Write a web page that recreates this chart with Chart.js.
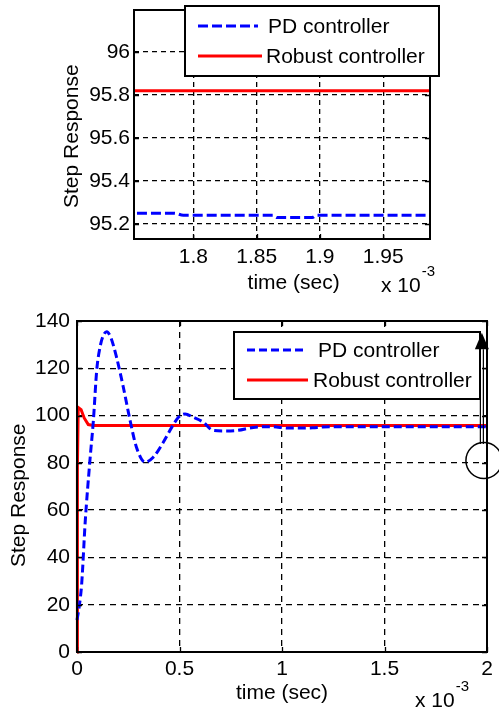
<!DOCTYPE html>
<html>
<head>
<meta charset="utf-8">
<title>Step Response</title>
<script src="https://cdn.jsdelivr.net/npm/chart.js@4/dist/chart.umd.min.js"></script>
<style>
  html, body { margin: 0; padding: 0; background: #fff; }
  #wrap { position: relative; width: 499px; height: 711px; overflow: hidden; }
  .panel { position: absolute; left: 0; }
</style>
</head>
<body>
<div id="wrap">
  <div class="panel" style="top:0"><canvas id="zoomChart" width="499" height="300"></canvas></div>
  <div class="panel" style="top:300px"><canvas id="fullChart" width="499" height="411"></canvas></div>
</div>
<script>
// time axis is in units of 1e-3 sec
var seriesNames = ['PD controller', 'Robust controller'];

var pdTime = [0, 0.012, 0.023, 0.04, 0.063, 0.08, 0.096, 0.112, 0.128, 0.145, 0.165, 0.193, 0.226, 0.259,
    0.29, 0.332, 0.372, 0.421, 0.462, 0.495, 0.527, 0.567, 0.616, 0.665, 0.72, 0.78, 0.86, 0.95, 1.03,
    1.08, 1.15, 1.2, 1.4, 1.6, 1.7, 1.785, 1.792, 1.863, 1.866, 1.894, 1.897, 2.0];
var pdResp = [13.5, 20, 29, 55, 81, 98, 119, 128.8, 133.8, 135.5, 133, 124.6, 112, 97.9,
    86.6, 80.3, 82.4, 88.7, 95, 99.3, 100.7, 99.3, 97.2, 93.7, 93.5, 93.7, 95, 95.3, 94.7,
    94.7, 94.8, 95.2, 95.25, 95.25, 95.25, 95.25, 95.24, 95.24, 95.23, 95.23, 95.24, 95.24];

var robustTime = [0, 0.002, 0.006, 0.02, 0.035, 0.055, 0.08, 2.0];
var robustResp = [0, 78, 103.4, 102.5, 99, 96.2, 95.82, 95.82];

var zoomTimeTicks = [1.8, 1.85, 1.9, 1.95];
var zoomRespTicks = [95.2, 95.4, 95.6, 95.8, 96];
var fullTimeTicks = [0, 0.5, 1, 1.5, 2];
var fullRespTicks = [0, 20, 40, 60, 80, 100, 120, 140];

var FONT = "'Liberation Sans', Arial, sans-serif";
Chart.defaults.font.family = FONT;
Chart.defaults.font.size = 21;
Chart.defaults.color = '#000';
Chart.defaults.animation = false;

function points(ts, vs) {
    return ts.map(function (t, i) { return {x: t, y: vs[i]}; });
}

function makeDatasets(dash, clip) {
    return [{
        label: seriesNames[0],
        data: points(pdTime, pdResp),
        borderColor: '#0000ff',
        borderWidth: 3,
        borderDash: dash,
        pointRadius: 0,
        cubicInterpolationMode: 'monotone',
        clip: clip
    }, {
        label: seriesNames[1],
        data: points(robustTime, robustResp),
        borderColor: '#ff0000',
        borderWidth: 3,
        pointRadius: 0,
        tension: 0,
        clip: clip
    }];
}

function fixedTicks(list) {
    return function (scale) {
        scale.ticks = list.map(function (v) { return {value: v}; });
    };
}

function axis(min, max, tickList, size, pad, title, titlePad, gridDash) {
    var horizontal = size.height !== undefined;
    return {
        type: 'linear',
        min: min,
        max: max,
        afterBuildTicks: fixedTicks(tickList),
        afterFit: function (s) {
            if (horizontal) {
                s.height = size.height;
                s.paddingLeft = 0; s.paddingRight = 0;
            } else {
                s.width = size.width;
                s.paddingTop = 0; s.paddingBottom = 0;
            }
        },
        grid: {color: '#000', lineWidth: 1.3, drawTicks: false},
        border: {display: false, dash: gridDash},
        ticks: {
            padding: pad,
            autoSkip: false,
            maxRotation: 0,
            callback: function (v) { return String(v); }
        },
        title: {display: true, text: title, padding: titlePad}
    };
}

// axes box with inward tick marks
function framePlugin() {
    return {
        id: 'frame',
        afterDatasetsDraw: function (chart) {
            var a = chart.chartArea, ctx = chart.ctx;
            var xs = chart.scales.x, ys = chart.scales.y;
            ctx.save();
            ctx.strokeStyle = '#000';
            ctx.lineWidth = 1.3;
            ctx.beginPath();
            xs.ticks.forEach(function (t) {
                var px = Math.round(xs.getPixelForValue(t.value)) + 0.5;
                ctx.moveTo(px, a.bottom); ctx.lineTo(px, a.bottom - 5);
                ctx.moveTo(px, a.top); ctx.lineTo(px, a.top + 5);
            });
            ys.ticks.forEach(function (t) {
                var py = Math.round(ys.getPixelForValue(t.value)) + 0.5;
                ctx.moveTo(a.left, py); ctx.lineTo(a.left + 5, py);
                ctx.moveTo(a.right, py); ctx.lineTo(a.right - 5, py);
            });
            ctx.stroke();
            ctx.lineWidth = 2;
            ctx.strokeRect(a.left, a.top, a.right - a.left, a.bottom - a.top);
            ctx.restore();
        }
    };
}

function legendPlugin(box, rows) {
    return {
        id: 'boxLegend',
        afterDraw: function (chart) {
            var ctx = chart.ctx;
            ctx.save();
            ctx.fillStyle = '#fff';
            ctx.fillRect(box.x, box.y, box.w, box.h);
            ctx.strokeStyle = '#000';
            ctx.lineWidth = 2;
            ctx.strokeRect(box.x, box.y, box.w, box.h);
            chart.data.datasets.forEach(function (ds, i) {
                var r = rows[i];
                ctx.strokeStyle = ds.borderColor;
                ctx.lineWidth = ds.borderWidth;
                ctx.setLineDash(ds.borderDash || []);
                ctx.beginPath();
                ctx.moveTo(r.x0, r.y);
                ctx.lineTo(r.x1, r.y);
                ctx.stroke();
                ctx.setLineDash([]);
                ctx.fillStyle = '#000';
                ctx.font = '21px ' + FONT;
                ctx.textAlign = 'left';
                ctx.textBaseline = 'middle';
                ctx.fillText(ds.label, r.tx, r.y + 1);
            });
            ctx.restore();
        }
    };
}

// "x 10^-3" multiplier under the time axis
function exponentPlugin(p) {
    return {
        id: 'exponent',
        afterDraw: function (chart) {
            var ctx = chart.ctx;
            ctx.save();
            ctx.fillStyle = '#000';
            ctx.textAlign = 'left';
            ctx.textBaseline = 'middle';
            ctx.font = '21px ' + FONT;
            ctx.fillText('x 10', p.x, p.y);
            var w = ctx.measureText('x 10').width;
            ctx.font = '15px ' + FONT;
            ctx.fillText('-3', p.x + w + 1, p.y - 14);
            ctx.restore();
        }
    };
}

// arrow pointing up at the legend, and the circle around the final value
function markerPlugin() {
    return {
        id: 'marker',
        afterDraw: function (chart) {
            var ctx = chart.ctx, xs = chart.scales.x, ys = chart.scales.y;
            var ax = xs.getPixelForValue(1.975);
            var tip = ys.getPixelForValue(135), base = ys.getPixelForValue(128), end = ys.getPixelForValue(88);
            ctx.save();
            ctx.strokeStyle = '#000';
            ctx.fillStyle = '#000';
            ctx.lineWidth = 1.2;
            ctx.beginPath();
            ctx.moveTo(ax - 1.5, base); ctx.lineTo(ax - 1.5, end);
            ctx.moveTo(ax + 1.5, base); ctx.lineTo(ax + 1.5, end);
            ctx.stroke();
            ctx.beginPath();
            ctx.moveTo(ax, tip);
            ctx.lineTo(ax - 7, base);
            ctx.lineTo(ax + 7, base);
            ctx.closePath();
            ctx.fill();
            ctx.lineWidth = 1.5;
            ctx.beginPath();
            ctx.arc(xs.getPixelForValue(1.985), ys.getPixelForValue(81), 18, 0, Math.PI * 2);
            ctx.stroke();
            ctx.restore();
        }
    };
}

var baseOptions = function (padding, scales) {
    return {
        responsive: false,
        devicePixelRatio: 1,
        animation: false,
        layout: {padding: padding},
        plugins: {legend: {display: false}, tooltip: {enabled: false}},
        scales: scales
    };
};

new Chart(document.getElementById('zoomChart'), {
    type: 'line',
    data: {datasets: makeDatasets([10, 4], {left: 0, right: 0, top: 4, bottom: 4})},
    options: baseOptions({left: 60, right: 69, top: 10, bottom: 2}, {
        x: axis(1.753, 1.987, zoomTimeTicks, {height: 59}, 6, '    time (sec)', {top: 0, bottom: 2.4}, [5, 4]),
        y: axis(95.13, 96.195, zoomRespTicks, {width: 74}, 4, 'Step Response    ', {top: 0, bottom: 0}, [5, 4])
    }),
    plugins: [framePlugin(),
        legendPlugin({x: 185, y: 6, w: 254, h: 70}, [
            {y: 26, x0: 198, x1: 258, tx: 268},
            {y: 56, x0: 198, x1: 262, tx: 266}
        ]),
        exponentPlugin({x: 381, y: 286})]
});

new Chart(document.getElementById('fullChart'), {
    type: 'line',
    data: {datasets: makeDatasets([8, 4], 2)},
    options: baseOptions({left: 7, right: 12, top: 21, bottom: 2}, {
        x: axis(0, 2, fullTimeTicks, {height: 57}, 5, 'time (sec)', {top: 0, bottom: 3.4}, [6, 5]),
        y: axis(0, 140, fullRespTicks, {width: 70}, 7, 'Step Response   ', {top: 0, bottom: 0}, [6, 5])
    }),
    plugins: [framePlugin(),
        legendPlugin({x: 234, y: 32, w: 246, h: 67}, [
            {y: 50, x0: 247, x1: 305, tx: 318},
            {y: 80, x0: 247, x1: 308, tx: 313}
        ]),
        markerPlugin(),
        exponentPlugin({x: 415, y: 401})]
});
</script>
</body>
</html>
